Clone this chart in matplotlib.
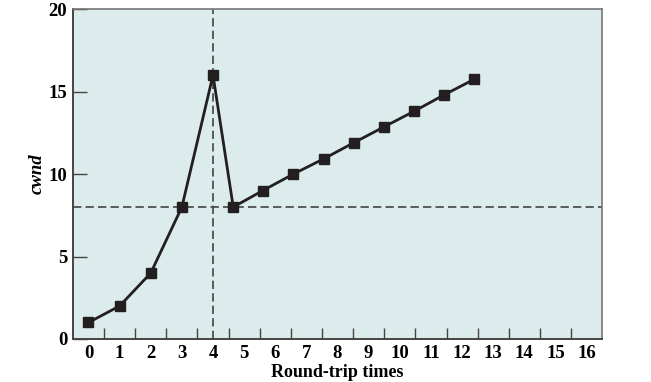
import matplotlib.pyplot as plt
import numpy as np

# data
rtt = [0, 1, 2, 3, 4, 4.65, 5.6, 6.58, 7.55, 8.52, 9.48, 10.45, 11.42, 12.39]
cwnd = [1, 2, 4, 8, 16, 8, 9, 10, 10.92, 11.9, 12.85, 13.8, 14.8, 15.75]
ssthresh = 8
timeout_at = 4
x_ticks = list(range(0, 17))
y_ticks = [0, 5, 10, 15, 20]

plt.rcParams['font.family'] = ['Liberation Serif', 'DejaVu Serif']

fig = plt.figure(figsize=(6.51, 3.82), dpi=100)
ax = fig.add_axes([0.112, 0.1126, 0.813, 0.8634])
ax.set_facecolor('#dcebeb')

# threshold and timeout dashed lines
ax.axhline(ssthresh, color='#444444', linestyle=(0, (5, 2.5)), linewidth=1.2, zorder=1)
ax.axvline(timeout_at, color='#444444', linestyle=(0, (5, 2.5)), linewidth=1.2, zorder=1)

ax.plot(rtt, cwnd, color='#231f20', linewidth=2, marker='s', markersize=7,
        zorder=3, solid_joinstyle='miter')

ax.set_xlim(-0.5, 16.5)
ax.set_ylim(0, 20)

# labels at integers, tick marks half-way between
ax.set_xticks(np.arange(0.5, 16.5, 1))
ax.set_xticklabels([])
ax.set_xticks(x_ticks, minor=True)
ax.set_xticklabels([str(v) for v in x_ticks], minor=True, fontsize=13.5, fontweight='bold')
ax.tick_params(axis='x', which='major', direction='in', length=8, width=1, color='#444444')
ax.tick_params(axis='x', which='minor', length=0, pad=4)

ax.set_yticks(y_ticks)
ax.set_yticklabels([str(v) for v in y_ticks], fontsize=13.5, fontweight='bold')
ax.tick_params(axis='y', direction='in', length=10, width=1, color='#444444', pad=4)

for side in ['top', 'right']:
    ax.spines[side].set_color('#777777')
    ax.spines[side].set_linewidth(1.2)
for side in ['left', 'bottom']:
    ax.spines[side].set_color('#444444')
    ax.spines[side].set_linewidth(1.4)

ax.set_xlabel('Round-trip times', fontsize=13, fontweight='bold', labelpad=2)
ax.set_ylabel('cwnd', fontsize=13.5, fontweight='bold', style='italic')
ax.yaxis.set_label_coords(-0.052, 0.5)

fig.savefig('out.png', dpi=100)
